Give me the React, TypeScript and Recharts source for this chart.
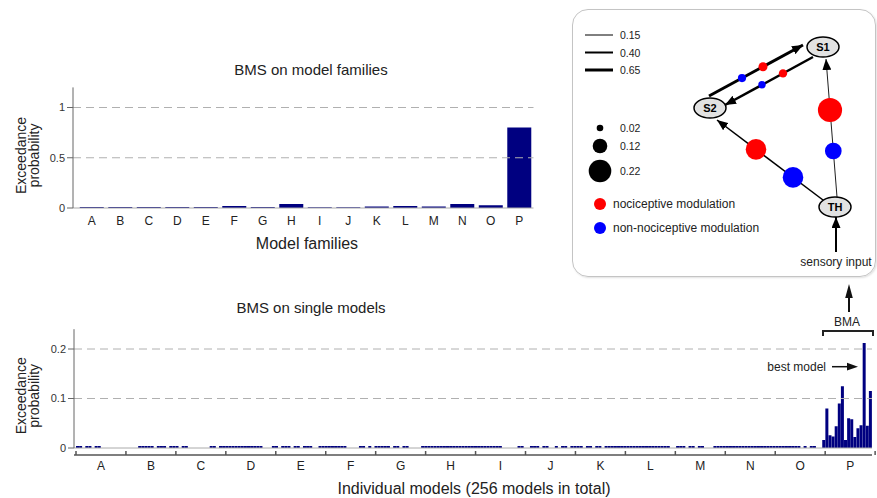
import React from 'react'
import {
  BarChart, Bar, XAxis, YAxis, ReferenceLine, ScatterChart, Scatter,
} from 'recharts'

const FONT = '"Liberation Sans", Arial, Helvetica, sans-serif'
const NAVY = '#000080'

// model families
const FAMILIES = ['A', 'B', 'C', 'D', 'E', 'F', 'G', 'H', 'I', 'J', 'K', 'L', 'M', 'N', 'O', 'P']
// exceedance probability per family
const FAMILY_EP = [0.01, 0.01, 0.01, 0.01, 0.01, 0.02, 0.01, 0.04, 0.008, 0.008, 0.015, 0.02, 0.015, 0.04, 0.028, 0.8]

// exceedance probability for the 16 single models of each family
const MODELS_A = [0.004, 0.004, 0, 0.004, 0.004, 0, 0.004, 0.004, 0, 0, 0, 0, 0, 0, 0, 0]
const MODELS_B = [0, 0, 0, 0, 0.004, 0.004, 0.004, 0.004, 0.004, 0, 0.004, 0.004, 0.004, 0, 0.004, 0.004]
const MODELS_C = [0.004, 0, 0.004, 0.004, 0, 0, 0, 0, 0, 0, 0, 0.004, 0.004, 0, 0.004, 0.004]
const MODELS_D = [0.004, 0.004, 0.004, 0.004, 0.004, 0.004, 0.004, 0.004, 0.004, 0.004, 0.004, 0.004, 0, 0, 0, 0.004]
const MODELS_E = [0.004, 0, 0.004, 0.004, 0.004, 0, 0.004, 0.004, 0, 0.004, 0.004, 0.004, 0, 0, 0.004, 0.004]
const MODELS_F = [0.004, 0.004, 0.004, 0.004, 0.004, 0.004, 0.004, 0, 0, 0, 0, 0.004, 0.004, 0, 0.004, 0]
const MODELS_G = [0.004, 0.004, 0.004, 0.004, 0.004, 0, 0.004, 0.004, 0, 0.004, 0.004, 0, 0, 0, 0, 0.004]
const MODELS_H = [0.004, 0.004, 0.004, 0.004, 0.004, 0.004, 0.004, 0.004, 0.004, 0.004, 0.004, 0.004, 0.004, 0.004, 0.004, 0.004]
const MODELS_I = [0.004, 0.004, 0.004, 0.004, 0.004, 0.004, 0.004, 0.004, 0.004, 0, 0, 0, 0, 0, 0.004, 0.004]
const MODELS_J = [0, 0, 0.004, 0.004, 0.004, 0, 0.004, 0.004, 0, 0, 0.004, 0, 0.004, 0.004, 0, 0.004]
const MODELS_K = [0.004, 0.004, 0.004, 0, 0.004, 0.004, 0, 0.004, 0.004, 0, 0.004, 0.004, 0.004, 0.004, 0.004, 0.004]
const MODELS_L = [0.004, 0.004, 0.004, 0.004, 0.004, 0.004, 0.004, 0.004, 0.004, 0.004, 0.004, 0.004, 0.004, 0.004, 0.004, 0]
const MODELS_M = [0, 0.004, 0.004, 0.004, 0, 0.004, 0.004, 0, 0.004, 0.004, 0, 0, 0, 0.004, 0.004, 0.004]
const MODELS_N = [0.004, 0.004, 0.004, 0.004, 0.004, 0.004, 0.004, 0.004, 0.004, 0.004, 0.004, 0.004, 0.004, 0.004, 0.004, 0.004]
const MODELS_O = [0.004, 0.004, 0.004, 0.004, 0.004, 0.004, 0.004, 0.004, 0.004, 0, 0.004, 0, 0.004, 0.004, 0, 0]
const MODELS_P = [0.016, 0.08, 0.026, 0.023, 0.044, 0.09, 0.125, 0.016, 0.06, 0.058, 0.022, 0.04, 0.046, 0.212, 0.045, 0.115]

const SINGLE_MODEL_EP = [
  MODELS_A, MODELS_B, MODELS_C, MODELS_D, MODELS_E, MODELS_F, MODELS_G, MODELS_H,
  MODELS_I, MODELS_J, MODELS_K, MODELS_L, MODELS_M, MODELS_N, MODELS_O, MODELS_P,
]

const FAMILY_TICKS_TOP = [0, 0.5, 1]
const MODEL_TICKS = [0, 0.1, 0.2]
const FAMILY_GRID = [0.5, 1]
const MODEL_GRID = [0.1, 0.2]

// network diagram (coordinates inside the inset box)
const DIAGRAM_NODES = [
  { label: 'S1', x: 250, y: 38 },
  { label: 'S2', x: 137, y: 99 },
  { label: 'TH', x: 262, y: 198 },
]
const CONNECTIONS = [
  { name: 'S2-S1', weight: 0.65, from: { x: 136, y: 87 }, to: { x: 230, y: 36 } },
  { name: 'S1-S2', weight: 0.52, from: { x: 240, y: 48 }, to: { x: 152, y: 96 } },
  { name: 'TH-S2', weight: 0.28, from: { x: 250, y: 191 }, to: { x: 144, y: 111 } },
  { name: 'TH-S1', weight: 0.12, from: { x: 264, y: 188 }, to: { x: 253, y: 50 } },
]
const INPUT_ARROW = [{ x: 263, y: 243 }, { x: 263, y: 208 }]
const NOCI_MODULATION = [
  { edge: 'S2-S1', value: 0.05, x: 190, y: 57.7 },
  { edge: 'S1-S2', value: 0.042, x: 210, y: 64.4 },
  { edge: 'TH-S2', value: 0.195, x: 183, y: 140.4 },
  { edge: 'TH-S1', value: 0.24, x: 257, y: 101 },
]
const NONNOCI_MODULATION = [
  { edge: 'S2-S1', value: 0.04, x: 169, y: 69.1 },
  { edge: 'S1-S2', value: 0.03, x: 189, y: 75.8 },
  { edge: 'TH-S2', value: 0.195, x: 220, y: 168.4 },
  { edge: 'TH-S1', value: 0.146, x: 260.3, y: 142 },
]
const WEIGHT_LEGEND = [0.15, 0.4, 0.65]
const SIZE_LEGEND = [0.02, 0.12, 0.22]

const modRadius = (v: number) => 2.5 + 40 * v
const edgeWidth = (w: number) => 0.4 + 4 * w

const familyData = FAMILIES.map((f, i) => ({ family: f, ep: FAMILY_EP[i] }))
const singleModelData = SINGLE_MODEL_EP.flatMap((vals, f) =>
  vals.map((ep, j) => ({ model: f * 16 + j + 1, ep }))
)
const familyTicks = Array.from({ length: 33 }, (_, i) => i * 8)

const tickText = { fill: '#333', fontSize: 11, fontFamily: FONT }

function FamilyTick(props: any) {
  const { x, y, payload } = props
  const v = payload.value
  if (v % 16 === 0) {
    return <line x1={x} x2={x} y1={y - 4} y2={y} stroke="#555" strokeWidth={1.5} />
  }
  return (
    <text x={x} y={y + 15} textAnchor="middle" fontSize={12} fontFamily={FONT} fill="#222">
      {FAMILIES[Math.floor(v / 16)]}
    </text>
  )
}

function NodeShape(props: any) {
  const { cx, cy, payload } = props
  return (
    <g>
      <ellipse cx={cx} cy={cy} rx={16} ry={10} fill="#e2e2e2" stroke="#000" strokeWidth={1.5} />
      <text x={cx} y={cy + 4} textAnchor="middle" fontSize={11} fontWeight="bold" fontFamily={FONT} fill="#000">
        {payload.label}
      </text>
    </g>
  )
}

const modShape = (color: string) => (props: any) => (
  <circle cx={props.cx} cy={props.cy} r={modRadius(props.payload.value)} fill={color} />
)

function YLabel({ cy }: { cy: number }) {
  return (
    <g fontSize={14} fontFamily={FONT} fill="#222" textAnchor="middle">
      <text transform={`translate(25.5,${cy}) rotate(-90)`}>Exceedance</text>
      <text transform={`translate(39,${cy}) rotate(-90)`}>probability</text>
    </g>
  )
}

export default function App() {
  return (
    <div style={{ position: 'absolute', left: 0, top: 0, width: 877, height: 498, background: '#fff', fontFamily: FONT }}>
      <svg width={0} height={0} style={{ position: 'absolute' }}>
        <defs>
          <marker id="arrowHead" markerUnits="userSpaceOnUse" markerWidth={11} markerHeight={9} refX={11} refY={4.5} orient="auto">
            <path d="M0,0 L11,4.5 L0,9 z" fill="#000" />
          </marker>
        </defs>
      </svg>

      {/* BMS on model families */}
      <div style={{ position: 'absolute', left: 0, top: 80 }}>
        <BarChart width={545} height={158} data={familyData} margin={{ top: 7.4, right: 11.5, bottom: 0, left: 0 }} barCategoryGap="8%">
          <XAxis dataKey="family" height={30} padding={{ left: 4.5, right: 0 }} axisLine={{ stroke: '#aaa' }} tickLine={false} tick={{ ...tickText, fontSize: 12, fill: '#222' }} interval={0} />
          <YAxis width={73} domain={[0, 1.2]} ticks={FAMILY_TICKS_TOP} allowDataOverflow axisLine={{ stroke: '#666' }} tickLine={{ stroke: '#666' }} tick={tickText} />
          {FAMILY_GRID.map((g) => (
            <ReferenceLine key={g} y={g} stroke="#b0b0b0" strokeDasharray="8 5" />
          ))}
          <Bar dataKey="ep" fill={NAVY} isAnimationActive={false} />
        </BarChart>
      </div>

      {/* BMS on single models */}
      <div style={{ position: 'absolute', left: 0, top: 320 }}>
        <BarChart width={877} height={165} data={singleModelData} margin={{ top: 9.2, right: 5, bottom: 0, left: 0 }} barCategoryGap={0} barGap={0}>
          <XAxis xAxisId="a" dataKey="model" height={7} padding={{ left: 2, right: 0 }} axisLine={{ stroke: '#aaa' }} tickLine={false} tick={false} />
          <XAxis xAxisId="b" type="number" domain={[0, 256]} allowDataOverflow ticks={familyTicks} interval={0} height={30} padding={{ left: 2, right: 0 }} axisLine={{ stroke: '#555', strokeWidth: 1.5 }} tickLine={false} tickSize={0} tickMargin={0} tick={<FamilyTick />} />
          <YAxis width={74} domain={[0, 0.24]} ticks={MODEL_TICKS} allowDataOverflow axisLine={{ stroke: '#666' }} tickLine={{ stroke: '#666' }} tick={tickText} />
          {MODEL_GRID.map((g) => (
            <ReferenceLine key={g} y={g} xAxisId="a" stroke="#b0b0b0" strokeDasharray="8 5" />
          ))}
          <Bar xAxisId="a" dataKey="ep" fill={NAVY} isAnimationActive={false} />
        </BarChart>
      </div>

      {/* inset box */}
      <div style={{ position: 'absolute', left: 572, top: 9, width: 304, height: 268, boxSizing: 'border-box', border: '1px solid #c4c4c4', borderRadius: 16, boxShadow: '1px 1px 2px rgba(0,0,0,0.12)' }} />

      <svg width={877} height={498} style={{ position: 'absolute', left: 0, top: 0 }}>
        <text x={311} y={75} textAnchor="middle" fontSize={15} fontFamily={FONT} fill="#222">BMS on model families</text>
        <text x={307} y={248.5} textAnchor="middle" fontSize={16} fontFamily={FONT} fill="#222">Model families</text>
        <YLabel cy={155.5} />
        <text x={311} y={313} textAnchor="middle" fontSize={15} fontFamily={FONT} fill="#222">BMS on single models</text>
        <text x={474} y={494} textAnchor="middle" fontSize={16} fontFamily={FONT} fill="#222">Individual models (256 models in total)</text>
        <YLabel cy={395.8} />

        {/* BMA annotation */}
        <line x1={849} x2={849} y1={312} y2={294} stroke="#111" strokeWidth={2} />
        <path d="M849,284 L852.8,298 L845.2,298 z" fill="#111" />
        <text x={847} y={326} textAnchor="middle" fontSize={12} fontFamily={FONT} fill="#222">BMA</text>
        <path d="M823,336 V331 H873 V336" fill="none" stroke="#222" strokeWidth={2} />
        <text x={826} y={371} textAnchor="end" fontSize={12} fontFamily={FONT} fill="#222">best model</text>
        <line x1={832} x2={848} y1={366.7} y2={366.7} stroke="#111" strokeWidth={1.5} />
        <path d="M858,366.7 L847,362.8 L847,370.6 z" fill="#111" />

        {/* inset legend */}
        <g fontFamily={FONT} fill="#222">
          {WEIGHT_LEGEND.map((w, i) => (
            <g key={w}>
              <line x1={585} x2={613} y1={35 + i * 17.5} y2={35 + i * 17.5} stroke="#000" strokeWidth={edgeWidth(w)} />
              <text x={620} y={39 + i * 17.5} fontSize={10.5}>{w.toFixed(2)}</text>
            </g>
          ))}
          {SIZE_LEGEND.map((v, i) => (
            <g key={v}>
              <circle cx={600} cy={[128, 146, 171][i]} r={modRadius(v)} fill="#000" />
              <text x={620} y={[132, 150, 175][i]} fontSize={10.5}>{v.toFixed(2)}</text>
            </g>
          ))}
          <circle cx={600} cy={204} r={6} fill="#ff0000" />
          <text x={613} y={208} fontSize={12}>nociceptive modulation</text>
          <circle cx={600} cy={228} r={6} fill="#0000ff" />
          <text x={613} y={232} fontSize={12}>non-nociceptive modulation</text>
          <text x={836} y={266} textAnchor="middle" fontSize={12}>sensory input</text>
        </g>
      </svg>

      {/* network diagram */}
      <div style={{ position: 'absolute', left: 573, top: 9 }}>
        <ScatterChart width={303} height={268} margin={{ top: 0, right: 0, bottom: 0, left: 0 }}>
          <XAxis type="number" dataKey="x" domain={[0, 303]} allowDataOverflow hide />
          <YAxis type="number" dataKey="y" domain={[0, 268]} allowDataOverflow reversed hide />
          {CONNECTIONS.map((c) => (
            <Scatter
              key={c.name}
              data={[c.from, c.to]}
              line={{ stroke: '#000', strokeWidth: edgeWidth(c.weight), markerEnd: 'url(#arrowHead)' }}
              shape={() => <g />}
              isAnimationActive={false}
            />
          ))}
          <Scatter
            data={INPUT_ARROW}
            line={{ stroke: '#000', strokeWidth: 2, markerEnd: 'url(#arrowHead)' }}
            shape={() => <g />}
            isAnimationActive={false}
          />
          <Scatter data={NOCI_MODULATION} shape={modShape('#ff0000')} isAnimationActive={false} />
          <Scatter data={NONNOCI_MODULATION} shape={modShape('#0000ff')} isAnimationActive={false} />
          <Scatter data={DIAGRAM_NODES} shape={<NodeShape />} isAnimationActive={false} />
        </ScatterChart>
      </div>
    </div>
  )
}
